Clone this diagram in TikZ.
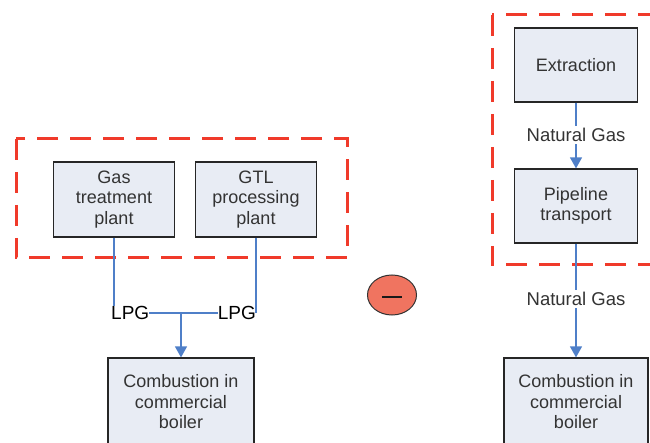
\documentclass[tikz,border=0pt]{standalone}
\usepackage{fontspec}
\setmainfont{Liberation Sans}
\usetikzlibrary{shapes.geometric,arrows.meta}
\definecolor{boxfill}{HTML}{E8ECF4}
\definecolor{flowblue}{HTML}{4F7FC8}
\definecolor{dashred}{HTML}{F03A2A}
\definecolor{txtgray}{HTML}{333333}
\definecolor{salmon}{HTML}{F07460}
\tikzset{
  procbox/.style={draw=black!85, line width=1.2pt, fill=boxfill, text=txtgray,
    align=center, inner sep=2pt, font=\fontsize{18}{20.5}\selectfont},
  flow/.style={draw=flowblue, line width=1.3pt},
  flowarrow/.style={flow, -{Triangle[length=11pt,width=12pt]}},
  region/.style={draw=dashred, line width=3pt, dash pattern=on 21pt off 12pt},
  flowlabel/.style={fill=white, text=txtgray, inner sep=2pt, font=\fontsize{18.5}{20}\selectfont},
  lpglabel/.style={text=black, inner sep=0pt, font=\fontsize{19}{20}\selectfont},
}
\begin{document}
\begin{tikzpicture}[x=1pt,y=-1pt]
\useasboundingbox (0,0) rectangle (650,443);
\clip (0,0) rectangle (650,443);
% dashed regions
\draw[region] (16,139) rectangle (347,258);
\draw[region] (492,15) rectangle (672,265);
% left process boxes
\node[procbox, minimum width=121pt, minimum height=75pt] (gas) at (114,199.5) {Gas\\treatment\\plant};
\node[procbox, minimum width=121pt, minimum height=75pt] (gtl) at (256,199.5) {GTL\\processing\\plant};
\node[procbox, minimum width=146pt, minimum height=88pt] (boilerL) at (181,402) {Combustion in\\commercial\\boiler};
% LPG labels
\node[lpglabel, anchor=west] (lpg1) at (111,313) {LPG};
\node[lpglabel, anchor=east] (lpg2) at (256,313) {LPG};
\coordinate (j) at (181,313);
\draw[flow] (gas.south) -- (gas.south |- lpg1.north);
\draw[flow] (gtl.south) -- (gtl.south |- lpg2.east);
\draw[flow] (lpg1.east) -- (lpg2.west);
\draw[flowarrow] (j) -- (boilerL.north);
% minus ellipse
\node[ellipse, draw=black!80, line width=1pt, fill=salmon, minimum width=49pt, minimum height=40pt, inner sep=0pt] (minus) at (392,295) {};
\draw[line width=2.5pt, black!90] ([xshift=-10pt,yshift=-2pt]minus.center) -- ([xshift=10pt,yshift=-2pt]minus.center);
% right process boxes
\node[procbox, minimum width=123pt, minimum height=74pt] (extr) at (576,65) {Extraction};
\node[procbox, minimum width=123pt, minimum height=74pt] (pipe) at (576,206) {Pipeline\\transport};
\node[procbox, minimum width=144pt, minimum height=88pt] (boilerR) at (576,402) {Combustion in\\commercial\\boiler};
\draw[flowarrow] (extr.south) -- (pipe.north);
\node[flowlabel] (ng1) at (576,135) {Natural Gas};
\draw[flowarrow] (pipe.south) -- (boilerR.north);
\node[flowlabel] (ng2) at (576,299) {Natural Gas};
\end{tikzpicture}
\end{document}
